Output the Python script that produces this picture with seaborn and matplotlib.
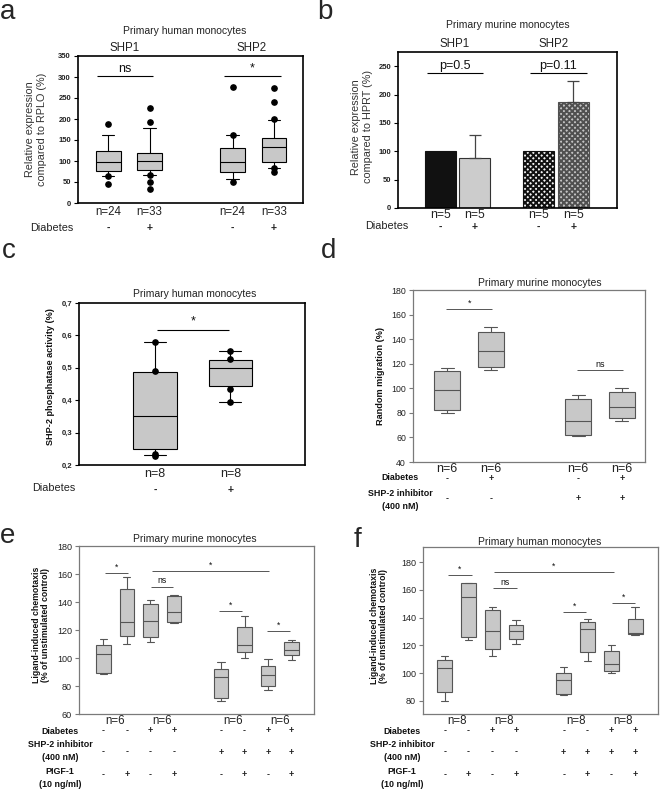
import numpy as np
import matplotlib
matplotlib.use("Agg")
import matplotlib.pyplot as plt
import matplotlib.transforms as mtransforms
import seaborn as sns

# ---------------- data ----------------
# panel a: primary human monocytes, SHP1/SHP2 expression (box stats)
a_pos = [0, 1, 3, 4]
a_n = ["n=24", "n=33", "n=24", "n=33"]
a_diab = ["-", "+", "-", "+"]
a_q1 = [76, 79, 74, 97]
a_med = [97, 100, 97, 134]
a_q3 = [124, 118, 131, 155]
a_wlo = [65, 66, 58, 83]
a_whi = [162, 179, 161, 197]
a_fliers = [[188, 65, 45], [226, 193, 66, 49, 34], [276, 161, 51], [275, 240, 200, 83, 73]]
a_yticks = [0, 50, 100, 150, 200, 250, 300, 350]

# panel b: primary murine monocytes (bars)
b_pos = [0, 1, 2.85, 3.85]
b_n = ["n=5", "n=5", "n=5", "n=5"]
b_diab = ["-", "+", "-", "+"]
b_vals = [100, 89, 100, 187]
b_err = [0, 39, 0, 36]
b_yticks = [0, 50, 100, 150, 200, 250]

# panel c: SHP-2 phosphatase activity
c_pos = [0, 1]
c_n = ["n=8", "n=8"]
c_diab = ["-", "+"]
c_q1 = [0.250, 0.443]
c_med = [0.352, 0.499]
c_q3 = [0.486, 0.525]
c_wlo = [0.231, 0.395]
c_whi = [0.580, 0.551]
c_fliers = [[0.580, 0.490, 0.233, 0.229], [0.551, 0.528, 0.434, 0.395]]
c_yticks = [0.2, 0.3, 0.4, 0.5, 0.6, 0.7]
c_yticklabels = ["0,2", "0,3", "0,4", "0,5", "0,6", "0,7"]

# panel d: random migration
d_pos = [0, 1, 3, 4]
d_n = ["n=6", "n=6", "n=6", "n=6"]
d_diab = ["-", "+", "-", "+"]
d_inh = ["-", "-", "+", "+"]
d_q1 = [82.7, 117, 62.3, 75.6]
d_med = [98.2, 130, 73.2, 84.6]
d_q3 = [114, 146, 91.4, 97]
d_wlo = [80.2, 114.5, 61, 73.4]
d_whi = [116.4, 149.8, 94.9, 100.6]
d_yticks = [40, 60, 80, 100, 120, 140, 160, 180]

# panel e: ligand-induced chemotaxis, murine
ef_pos = [0, 1, 2, 3, 5, 6, 7, 8]
e_n = ["n=6", "n=6", "n=6", "n=6"]
ef_diab = ["-", "-", "+", "+", "-", "-", "+", "+"]
ef_inh = ["-", "-", "-", "-", "+", "+", "+", "+"]
ef_plgf = ["-", "+", "-", "+", "-", "+", "-", "+"]
e_q1 = [89.5, 116, 115.2, 126, 71.2, 104.5, 80.2, 101.9]
e_med = [102.6, 126, 126.2, 132.6, 86.2, 109.3, 87.9, 105.5]
e_q3 = [109.3, 149.5, 138.3, 144.3, 92.4, 121.9, 94, 111.7]
e_wlo = [88.6, 110, 111.7, 124.8, 69, 99.8, 77.4, 98.8]
e_whi = [113.3, 157.6, 141.2, 145.2, 97.4, 130, 99.5, 113]
e_yticks = [60, 80, 100, 120, 140, 160, 180]

# panel f: ligand-induced chemotaxis, human
f_n = ["n=8", "n=8", "n=8", "n=8"]
f_q1 = [86.7, 125.9, 117.3, 124.5, 85, 115.3, 101.9, 128.3]
f_med = [103.6, 154.8, 130.5, 130.7, 95.1, 131.7, 106.7, 128.8]
f_q3 = [109.6, 164.9, 145.6, 134.3, 100, 136.7, 116, 139.1]
f_wlo = [80, 124, 112.7, 120.9, 84.3, 108.4, 100, 127.8]
f_whi = [112.7, 164.9, 147.3, 138.4, 104.5, 138.9, 120.1, 147.5]
f_yticks = [80, 100, 120, 140, 160, 180]

# ---------------- style ----------------
sns.set_theme(style="ticks")
plt.rcParams['font.family'] = ['Liberation Sans', 'DejaVu Sans']
plt.rcParams['hatch.linewidth'] = 1.4

W, H = 660, 790
fig = plt.figure(figsize=(W / 100, H / 100), dpi=100)
fig.patch.set_facecolor("white")

BOXFILL = "#c8c8c8"


def axes_px(l, t, r, b):
    return fig.add_axes([l / W, 1 - b / H, (r - l) / W, (b - t) / H])


def ftxt(x, y, s, **kw):
    kw.setdefault("ha", "center")
    kw.setdefault("va", "center")
    fig.text(x / W, 1 - y / H, s, **kw)


def col_text(ax, xs, y, labels, **kw):
    tr = mtransforms.blended_transform_factory(ax.transData, fig.transFigure)
    for x, s in zip(xs, labels):
        ax.text(x, 1 - y / H, s, transform=tr, ha="center", va="center", clip_on=False, **kw)


def style_axes(ax, color, lw, tick_size, bold):
    for sp in ax.spines.values():
        sp.set_visible(True)
        sp.set_color(color)
        sp.set_linewidth(lw)
    ax.set_facecolor("white")
    ax.grid(False)
    ax.set_xticks([])
    ax.tick_params(axis="y", length=3, width=0.8, color=color, pad=2,
                   labelsize=tick_size, labelcolor="#222222")
    if bold:
        for lab in ax.get_yticklabels():
            lab.set_fontweight("bold")


def boxes(ax, pos, q1, med, q3, wlo, whi, fliers=None, width=0.6, edge="black", lw=0.8):
    stats = []
    for i in range(len(pos)):
        stats.append(dict(q1=q1[i], med=med[i], q3=q3[i], whislo=wlo[i], whishi=whi[i],
                          fliers=np.array(fliers[i]) if fliers is not None else np.array([])))
    ax.bxp(stats, positions=pos, widths=width, patch_artist=True, showfliers=True,
           capwidths=width * 0.5,
           boxprops=dict(facecolor=BOXFILL, edgecolor=edge, linewidth=lw),
           medianprops=dict(color=edge, linewidth=lw),
           whiskerprops=dict(color=edge, linewidth=lw),
           capprops=dict(color=edge, linewidth=lw),
           flierprops=dict(marker="o", markerfacecolor="black", markeredgecolor="black",
                           markersize=3.8, linestyle="none"))


def sig(ax, x1, x2, y, s, dy, color="black", lw=0.8, size=8):
    ax.plot([x1, x2], [y, y], color=color, lw=lw, solid_capstyle="butt")
    ax.text((x1 + x2) / 2, y + dy, s, ha="center", va="bottom", fontsize=size, color="#111111")


# ---------------- panel a ----------------
ax = axes_px(78, 56, 303, 203)
boxes(ax, a_pos, a_q1, a_med, a_q3, a_wlo, a_whi, a_fliers)
ax.set_xlim(-0.73, 4.70)
ax.set_ylim(0, 350)
ax.set_yticks(a_yticks)
style_axes(ax, "black", 1.2, 5.5, True)
ax.set_ylabel("Relative expression\ncompared to RPLO (%)", fontsize=7.8, color="#333333")
ax.yaxis.set_label_coords(-0.138, 0.5)
sig(ax, -0.27, 1.08, 303, "ns", 2, size=9)
sig(ax, 2.80, 4.17, 303, "*", 2, size=9)
ftxt(185, 31, "Primary human monocytes", fontsize=7.5, color="#222222")
ftxt(125, 48, "SHP1", fontsize=8.3, color="#222222")
ftxt(252, 48, "SHP2", fontsize=8.3, color="#222222")
col_text(ax, a_pos, 212, a_n, fontsize=8.3, color="#222222")
col_text(ax, a_pos, 228, a_diab, fontsize=7.5, fontweight="bold", color="#222222")
ftxt(52, 228, "Diabetes", fontsize=7.8, color="#222222")
ftxt(0, 19, "a", fontsize=20, ha="left", va="baseline")

# ---------------- panel b ----------------
ax = axes_px(398, 52, 617, 208)
sns.barplot(x=b_pos, y=b_vals, native_scale=True, orient="x", width=0.9,
            errorbar=None, color="#cccccc", edgecolor="black", linewidth=0.8, ax=ax)
b_faces = ["#111111", "#cccccc", "#f4f4f4", "#c4c4c4"]
b_edges = ["#111111", "#333333", "#111111", "#505050"]
b_hatch = [None, None, "xxxxxx", "xxxxxx"]
for p, fc, ec, h in zip(ax.patches, b_faces, b_edges, b_hatch):
    p.set_facecolor(fc)
    p.set_edgecolor(ec)
    if h:
        p.set_hatch(h)
mask = [e > 0 for e in b_err]
ax.errorbar([p for p, m in zip(b_pos, mask) if m], [v for v, m in zip(b_vals, mask) if m],
            yerr=[[0] * sum(mask), [e for e, m in zip(b_err, mask) if m]],
            fmt="none", ecolor="#444444", elinewidth=0.9, capsize=4, capthick=0.9)
ax.set_xlim(-1.23, 5.12)
ax.set_ylim(0, 275)
ax.set_yticks(b_yticks)
ax.set_xlabel("")
style_axes(ax, "black", 1.2, 5.5, True)
ax.set_ylabel("Relative expression\ncompared to HPRT (%)", fontsize=7.8, color="#333333")
ax.yaxis.set_label_coords(-0.114, 0.52)
sig(ax, -0.39, 1.23, 238, "p=0.5", 2, size=9)
sig(ax, 2.59, 4.25, 238, "p=0.11", 2, size=9)
ftxt(508, 25, "Primary murine monocytes", fontsize=7.5, color="#222222")
ftxt(455, 44, "SHP1", fontsize=8.3, color="#222222")
ftxt(554, 44, "SHP2", fontsize=8.3, color="#222222")
col_text(ax, b_pos, 215, b_n, fontsize=8.8, color="#222222")
col_text(ax, b_pos, 227, b_diab, fontsize=7.5, fontweight="bold", color="#222222")
ftxt(387, 226, "Diabetes", fontsize=7.8, color="#222222")
ftxt(317, 19, "b", fontsize=20, ha="left", va="baseline")

# ---------------- panel c ----------------
ax = axes_px(79, 303, 305, 465)
boxes(ax, c_pos, c_q1, c_med, c_q3, c_wlo, c_whi, c_fliers, width=0.58)
ax.set_xlim(-1.01, 1.99)
ax.set_ylim(0.2, 0.7)
ax.set_yticks(c_yticks)
ax.set_yticklabels(c_yticklabels)
style_axes(ax, "black", 1.2, 5.5, True)
ax.set_ylabel("SHP-2 phosphatase activity (%)", fontsize=6.6, fontweight="bold", color="#111111")
ax.yaxis.set_label_coords(-0.106, 0.546)
sig(ax, 0.02, 0.98, 0.6175, "*", 0.006, size=9)
ftxt(195, 294, "Primary human monocytes", fontsize=7.5, color="#222222")
col_text(ax, c_pos, 474, c_n, fontsize=9, color="#222222")
col_text(ax, c_pos, 490, c_diab, fontsize=7.5, fontweight="bold", color="#222222")
ftxt(54, 488, "Diabetes", fontsize=7.8, color="#222222")
ftxt(2, 258, "c", fontsize=20, ha="left", va="baseline")

# ---------------- panel d ----------------
GRAY = "#7a7a7a"
ax = axes_px(413, 290, 645, 462)
boxes(ax, d_pos, d_q1, d_med, d_q3, d_wlo, d_whi, None, edge="#555555", lw=0.8)
ax.set_xlim(-0.78, 4.53)
ax.set_ylim(40, 180)
ax.set_yticks(d_yticks)
style_axes(ax, GRAY, 0.9, 6.3, False)
ax.set_ylabel("Random migration (%)", fontsize=6.6, fontweight="bold", color="#111111")
ax.yaxis.set_label_coords(-0.12, 0.5)
sig(ax, -0.02, 1.03, 164.2, "*", 1.0, color="#555555", lw=0.7, size=6.5)
sig(ax, 2.97, 4.03, 114.7, "ns", 1.0, color="#555555", lw=0.7, size=6.5)
ftxt(540, 283, "Primary murine monocytes", fontsize=7.5, color="#222222")
col_text(ax, d_pos, 469, d_n, fontsize=9, color="#222222")
col_text(ax, d_pos, 479, d_diab, fontsize=6.5, fontweight="bold", color="#222222")
col_text(ax, d_pos, 499, d_inh, fontsize=6.5, fontweight="bold", color="#222222")
ftxt(400, 478, "Diabetes", fontsize=6.4, fontweight="bold", color="#111111")
ftxt(400, 500, "SHP-2 inhibitor\n(400 nM)", fontsize=6.4, fontweight="bold", color="#111111",
     linespacing=1.5)
ftxt(321, 258, "d", fontsize=20, ha="left", va="baseline")


# ---------------- panels e and f ----------------
def chemo_panel(l, t, r, b, xlim, ylim, yticks, q1, med, q3, wlo, whi, n_labels, title,
                title_xy, label_x, ylabel_coords, sigs, letter_xy, letter):
    ax = axes_px(l, t, r, b)
    boxes(ax, ef_pos, q1, med, q3, wlo, whi, None, width=0.62, edge="#555555", lw=0.8)
    ax.set_xlim(*xlim)
    ax.set_ylim(*ylim)
    ax.set_yticks(yticks)
    style_axes(ax, GRAY, 0.9, 6.5, False)
    ax.set_ylabel("Ligand-induced chemotaxis\n(% of unstimulated control)", fontsize=6.3,
                  fontweight="bold", color="#111111", linespacing=1.0)
    ax.yaxis.set_label_coords(*ylabel_coords)
    for x1, x2, y, s in sigs:
        sig(ax, x1, x2, y, s, 0.8, color="#555555", lw=0.7, size=6.2)
    ftxt(title_xy[0], title_xy[1], title, fontsize=7.5, color="#222222")
    col_text(ax, [0.5, 2.5, 5.5, 7.5], 721, n_labels, fontsize=8.3, color="#222222")
    col_text(ax, ef_pos, 731, ef_diab, fontsize=6.5, fontweight="bold", color="#222222")
    col_text(ax, ef_pos, 752, ef_inh, fontsize=6.5, fontweight="bold", color="#222222")
    col_text(ax, ef_pos, 775, ef_plgf, fontsize=6.5, fontweight="bold", color="#222222")
    ftxt(label_x, 731, "Diabetes", fontsize=6.4, fontweight="bold", color="#111111")
    ftxt(label_x, 751, "SHP-2 inhibitor\n(400 nM)", fontsize=6.4, fontweight="bold",
         color="#111111", linespacing=1.5)
    ftxt(label_x, 778, "PIGF-1\n(10 ng/ml)", fontsize=6.4, fontweight="bold",
         color="#111111", linespacing=1.5)
    ftxt(letter_xy[0], letter_xy[1], letter, fontsize=20, ha="left", va="baseline")
    return ax


e_sigs = [(0.07, 1.06, 161, "*"), (2.01, 2.97, 151, "ns"), (2.05, 7.05, 162.4, "*"),
          (4.93, 5.88, 133.8, "*"), (6.94, 7.93, 119.3, "*")]
chemo_panel(79, 546, 314, 714, (-1.03, 8.95), (60, 180), e_yticks,
            e_q1, e_med, e_q3, e_wlo, e_whi, e_n, "Primary murine monocytes",
            (195, 539), 60, (-0.123, 0.53), e_sigs, (0, 543), "e")

f_sigs = [(0.15, 1.13, 170.9, "*"), (2.02, 3.05, 161, "ns"), (2.07, 7.11, 173, "*"),
          (4.98, 5.94, 144.2, "*"), (7.02, 8.0, 150.4, "*")]
chemo_panel(423, 547, 658, 714, (-0.91, 8.96), (70.6, 190.8), f_yticks,
            f_q1, f_med, f_q3, f_wlo, f_whi, f_n, "Primary human monocytes",
            (540, 542), 402, (-0.149, 0.527), f_sigs, (354, 547), "f")

fig.savefig("out.png", dpi=100, facecolor="white")
